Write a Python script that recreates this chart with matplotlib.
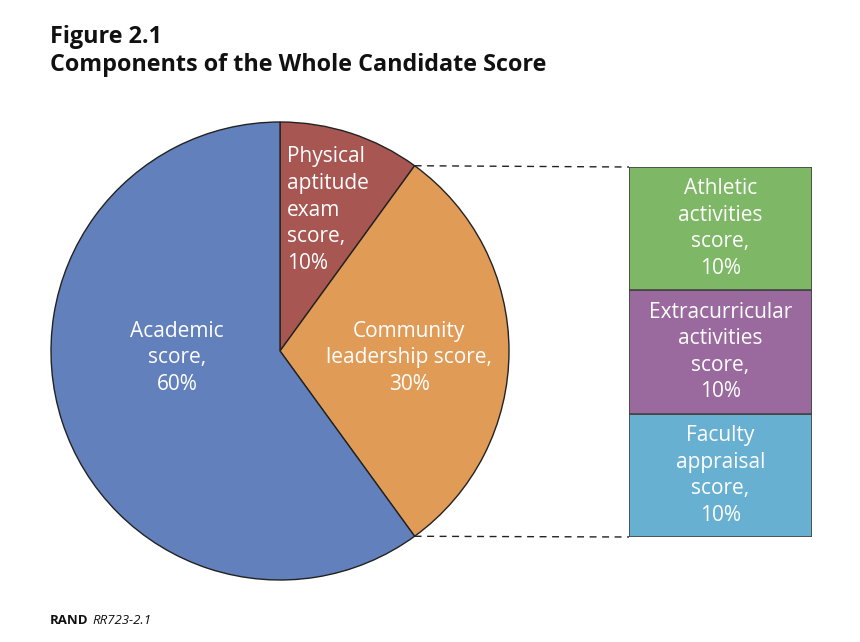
import matplotlib
matplotlib.use('Agg')
import numpy as np
import matplotlib.pyplot as plt

# pie slices (clockwise from 12 o'clock)
pie_labels = ['Physical\naptitude\nexam\nscore,\n10%',
              'Community\nleadership score,\n30%',
              'Academic\nscore,\n60%']
pie_values = [10, 30, 60]
pie_colors = ['#A85651', '#E09B56', '#6281BC']

# breakdown of the community slice, bottom to top
bar_labels = ['Faculty\nappraisal\nscore,\n10%',
              'Extracurricular\nactivities\nscore,\n10%',
              'Athletic\nactivities\nscore,\n10%']
bar_values = [10, 10, 10]
bar_colors = ['#68B0D1', '#9A6A9E', '#7EB766']

W, H = 860, 642
fig = plt.figure(figsize=(W / 100, H / 100), dpi=100)
fig.patch.set_facecolor('white')
font = 'Open Sans'

# main axes in pixel coordinates (y up)
ax = fig.add_axes([0, 0, 1, 1])
cx, cy, r = 280, H - 351, 229
wedges, _ = ax.pie(pie_values, colors=pie_colors, startangle=90, counterclock=False,
                   center=(cx, cy), radius=r, frame=True,
                   wedgeprops=dict(edgecolor='#222222', linewidth=1.0))
ax.set_xlim(0, W)
ax.set_ylim(0, H)
ax.set_aspect('equal')
ax.axis('off')

txt = dict(color='white', fontsize=15, family=font, linespacing=1.35)
ax.text(287, H - 210, pie_labels[0], ha='left', va='center', **txt)
ax.text(409, H - 358, pie_labels[1], ha='center', va='center', **txt)
ax.text(177, H - 358, pie_labels[2], ha='center', va='center', **txt)

# stacked bar on the right
bx0, bx1, by0, by1 = 629, 812, H - 537, H - 167
bax = fig.add_axes([bx0 / W, by0 / H, (bx1 - bx0) / W, (by1 - by0) / H])
bottom = 0
for lab, v, c in zip(bar_labels, bar_values, bar_colors):
    bax.bar(0, v, bottom=bottom, width=1, color=c, edgecolor='#444444', linewidth=1.2)
    bax.text(0, bottom + v / 2, lab, ha='center', va='center', **txt)
    bottom += v
bax.set_xlim(-0.5, 0.5)
bax.set_ylim(0, bottom)
bax.axis('off')

# dashed connectors from the community slice edges to the bar
a1 = np.deg2rad(90 - 360 * pie_values[0] / 100)
a2 = np.deg2rad(90 - 360 * (pie_values[0] + pie_values[1]) / 100)
for a, yb in [(a1, by1), (a2, by0)]:
    px, py = cx + r * np.cos(a), cy + r * np.sin(a)
    ax.plot([px, bx0], [py, yb], color='#222222', linestyle=(0, (5, 4)), linewidth=1.0)

# titles
fig.text(50 / W, 1 - 37 / H, 'Figure 2.1', fontsize=16.8, fontweight='bold',
         family=font, va='center', ha='left', color='#111111')
fig.text(50 / W, 1 - 65 / H, 'Components of the Whole Candidate Score', fontsize=16.8,
         fontweight='bold', family=font, va='center', ha='left', color='#111111')
fig.text(50 / W, 1 - 620 / H, 'RAND', fontsize=9.5, fontweight='bold', family=font,
         va='center', ha='left', color='#111111')
fig.text(92 / W, 1 - 620 / H, 'RR723-2.1', fontsize=9.5, style='italic', family=font,
         va='center', ha='left', color='#111111')

fig.savefig('out.png', dpi=100, facecolor='white')
